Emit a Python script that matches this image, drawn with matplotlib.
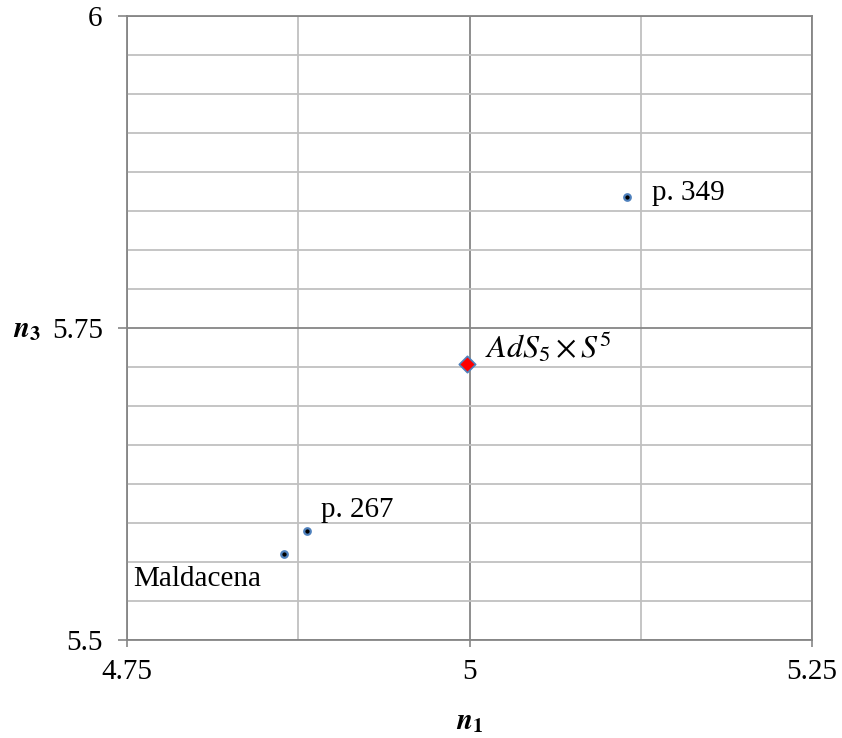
import matplotlib.pyplot as plt
import numpy as np

plt.rcParams["font.family"] = ["Liberation Serif", "DejaVu Serif"]
plt.rcParams["mathtext.fontset"] = "stix"

# data
puntos_n1 = [4.8644, 4.8811, 5.1147]
puntos_n3 = [5.5687, 5.5873, 5.8547]
puntos_etiquetas = ["Maldacena", "p. 267", "p. 349"]
ads_n1 = [4.998]
ads_n3 = [5.721]

x_ticks = [4.75, 5.0, 5.25]
x_tick_labels = ["4.75", "5", "5.25"]
y_ticks = [5.5, 5.75, 6.0]
y_tick_labels = ["5.5", "5.75", "6"]

GRIS_EJE = "#868686"
GRIS_MENOR = "#c0c0c0"
AZUL = "#4f81bd"

fig = plt.figure(figsize=(8.42, 7.38), dpi=100)
ax = fig.add_axes([127 / 842, 98 / 738, 685 / 842, 624 / 738])

ax.set_xlim(4.75, 5.25)
ax.set_ylim(5.5, 6.0)

ax.set_xticks(x_ticks)
ax.set_xticklabels(x_tick_labels)
ax.set_yticks(y_ticks)
ax.set_yticklabels(y_tick_labels)
ax.set_xticks([4.875, 5.125], minor=True)
ax.set_yticks(np.arange(5.5, 6.0001, 0.03125), minor=True)

ax.tick_params(axis="both", which="major", width=1.2, color=GRIS_EJE, labelsize=21)
ax.tick_params(axis="y", which="major", length=6.5, pad=11)
ax.tick_params(axis="x", which="major", length=5, pad=8.5)
ax.tick_params(axis="both", which="minor", length=0)

ax.grid(True, which="minor", color=GRIS_MENOR, linewidth=1.3, zorder=0)
ax.grid(True, which="major", color=GRIS_EJE, linewidth=1.3, zorder=0)
ax.set_axisbelow(True)

for lado in ["left", "bottom", "top", "right"]:
    ax.spines[lado].set_color(GRIS_EJE)
    ax.spines[lado].set_linewidth(1.3)

ax.scatter(puntos_n1, puntos_n3, s=22, facecolor="black", edgecolor=AZUL,
           linewidth=1.6, zorder=3, clip_on=False)
ax.scatter(ads_n1, ads_n3, s=70, marker="D", facecolor="red", edgecolor=AZUL,
           linewidth=1.2, zorder=3)

# etiquetas de los puntos
ax.text(4.7545, 5.549, "Maldacena", fontsize=21, va="center", ha="left")
ax.text(4.8915, 5.604, "p. 267", fontsize=21, va="center", ha="left")
ax.text(5.1335, 5.858, "p. 349", fontsize=21, va="center", ha="left")
ax.text(5.0115, 5.735, r"$AdS_5\times S^5$", fontsize=23, va="center", ha="left")

fig.text(27 / 842, 1 - 330 / 738, r"$\mathbfit{n}_\mathbf{3}$", fontsize=21,
         ha="center", va="center")
fig.text(470 / 842, 1 - 722 / 738, r"$\mathbfit{n}_\mathbf{1}$", fontsize=21,
         ha="center", va="center")

fig.savefig("out.png", dpi=100)
plt.close(fig)
